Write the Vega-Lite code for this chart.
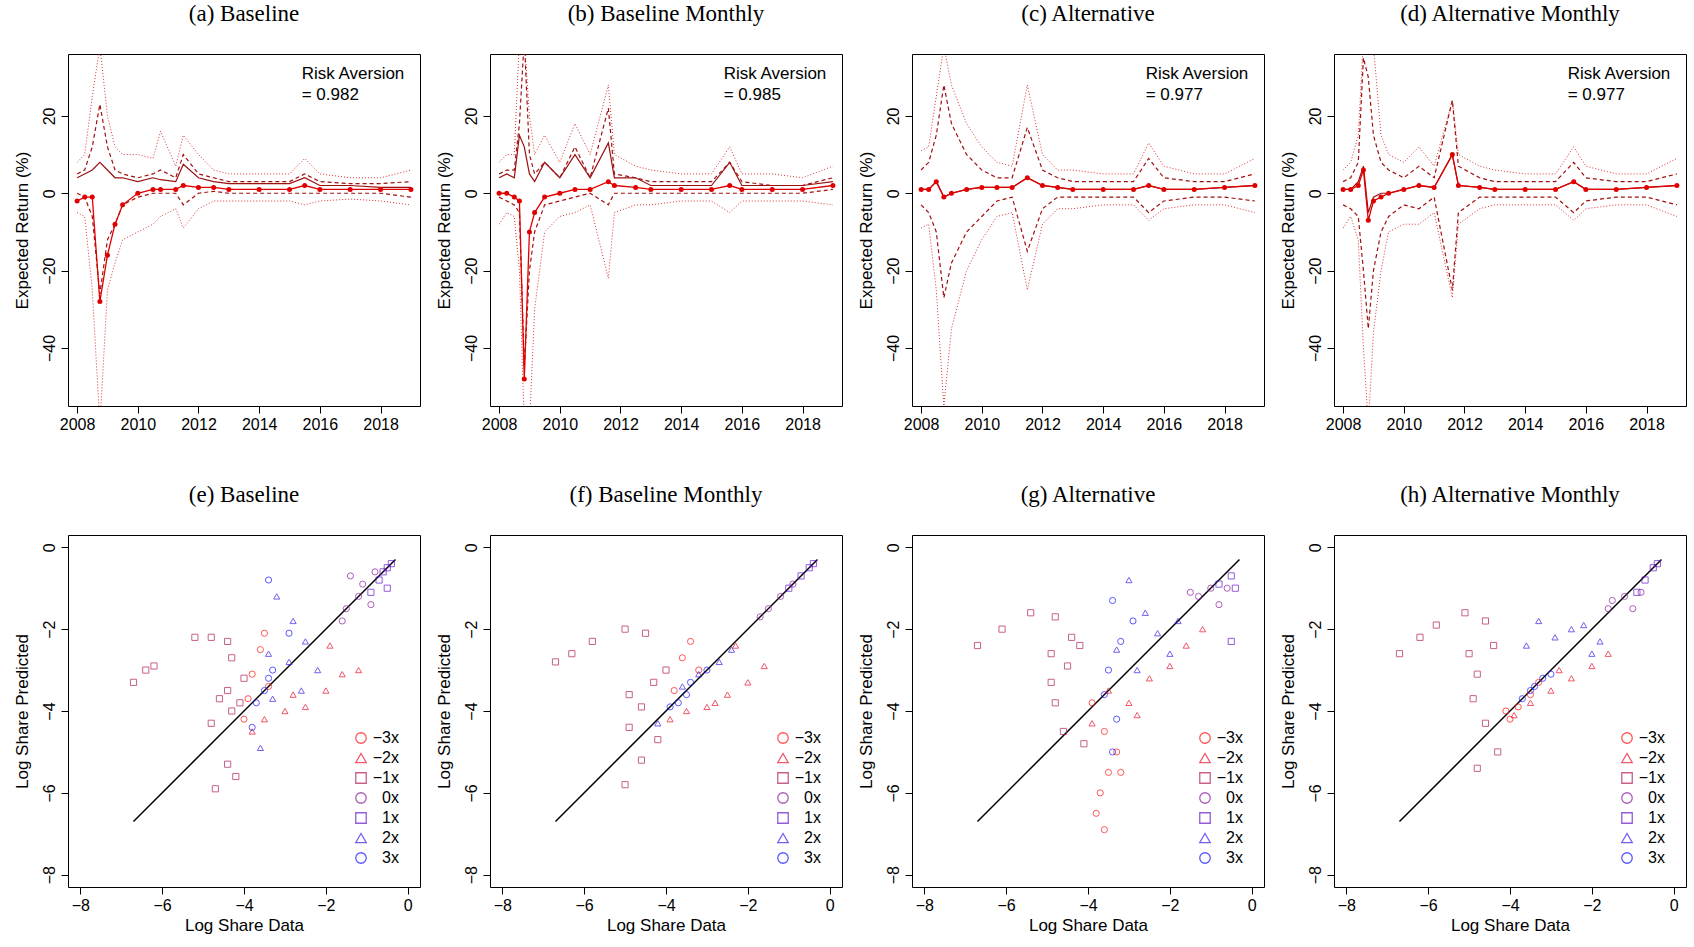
{
  "$schema": "https://vega.github.io/schema/vega-lite/v6.json",
  "background": "white",
  "padding": {"left": 12, "top": 2, "right": 2, "bottom": 2},
  "spacing": {"row": 50, "column": 13},
  "datasets": {
    "ts": [
      {"p":"a","t":2008.0,"m":-2,"s":4,"du":5,"dl":0,"qu":8,"ql":-5},
      {"p":"a","t":2008.25,"m":-1,"s":5,"du":6,"dl":-1,"qu":10,"ql":-6},
      {"p":"a","t":2008.5,"m":-1,"s":6,"du":12,"dl":-6,"qu":25,"ql":-25},
      {"p":"a","t":2008.75,"m":-28,"s":8,"du":23,"dl":-26,"qu":38,"ql":-60},
      {"p":"a","t":2009.0,"m":-16,"s":6,"du":12,"dl":-12,"qu":20,"ql":-25},
      {"p":"a","t":2009.25,"m":-8,"s":4,"du":6,"dl":-8,"qu":12,"ql":-18},
      {"p":"a","t":2009.5,"m":-3,"s":4,"du":5,"dl":-3,"qu":10,"ql":-12},
      {"p":"a","t":2010.0,"m":0,"s":3,"du":4,"dl":-1,"qu":10,"ql":-10},
      {"p":"a","t":2010.5,"m":1,"s":4,"du":5,"dl":0,"qu":9,"ql":-8},
      {"p":"a","t":2010.75,"m":1,"s":3.5,"du":6,"dl":0,"qu":16,"ql":-6},
      {"p":"a","t":2011.25,"m":1,"s":3,"du":4,"dl":0,"qu":7,"ql":-4},
      {"p":"a","t":2011.5,"m":2,"s":7.5,"du":10,"dl":-3,"qu":15,"ql":-9},
      {"p":"a","t":2012.0,"m":1.5,"s":4,"du":5,"dl":0,"qu":10,"ql":-4},
      {"p":"a","t":2012.5,"m":1.5,"s":3,"du":4,"dl":0.5,"qu":6,"ql":-2},
      {"p":"a","t":2013.0,"m":1,"s":2.5,"du":3,"dl":0,"qu":5,"ql":-2},
      {"p":"a","t":2014.0,"m":1,"s":2.5,"du":3,"dl":0,"qu":5,"ql":-2},
      {"p":"a","t":2015.0,"m":1,"s":2.5,"du":3,"dl":0,"qu":5,"ql":-2},
      {"p":"a","t":2015.5,"m":2,"s":4,"du":5,"dl":0,"qu":9,"ql":-3},
      {"p":"a","t":2016.0,"m":1,"s":2,"du":3,"dl":0,"qu":5,"ql":-2},
      {"p":"a","t":2017.0,"m":1,"s":2,"du":2.5,"dl":0,"qu":4,"ql":-1.5},
      {"p":"a","t":2018.0,"m":1,"s":1.5,"du":2.5,"dl":0,"qu":4,"ql":-2},
      {"p":"a","t":2019.0,"m":1,"s":1.5,"du":3,"dl":-1,"qu":6,"ql":-3},

      {"p":"b","t":2008.0,"m":0,"s":4,"du":5,"dl":-1,"qu":8,"ql":-8},
      {"p":"b","t":2008.25,"m":0,"s":5,"du":6,"dl":-2,"qu":10,"ql":-5},
      {"p":"b","t":2008.5,"m":-1,"s":4,"du":6,"dl":-3,"qu":10,"ql":-6},
      {"p":"b","t":2008.67,"m":-2,"s":15,"du":18,"dl":-5,"qu":40,"ql":-20},
      {"p":"b","t":2008.83,"m":-48,"s":12,"du":40,"dl":-45,"qu":40,"ql":-60},
      {"p":"b","t":2009.0,"m":-10,"s":5,"du":10,"dl":-20,"qu":20,"ql":-60},
      {"p":"b","t":2009.17,"m":-5,"s":3,"du":5,"dl":-10,"qu":10,"ql":-30},
      {"p":"b","t":2009.5,"m":-1,"s":8,"du":8,"dl":-3,"qu":15,"ql":-10},
      {"p":"b","t":2010.0,"m":0,"s":4,"du":4,"dl":-2,"qu":8,"ql":-6},
      {"p":"b","t":2010.5,"m":1,"s":10,"du":12,"dl":-1,"qu":18,"ql":-5},
      {"p":"b","t":2011.0,"m":1,"s":4,"du":4,"dl":0,"qu":10,"ql":-3},
      {"p":"b","t":2011.6,"m":3,"s":13,"du":22,"dl":-3,"qu":28,"ql":-22},
      {"p":"b","t":2011.8,"m":2,"s":4,"du":5,"dl":0,"qu":10,"ql":-5},
      {"p":"b","t":2012.5,"m":1.5,"s":4,"du":4,"dl":0,"qu":7,"ql":-3},
      {"p":"b","t":2013.0,"m":1,"s":2,"du":3,"dl":0,"qu":6,"ql":-3},
      {"p":"b","t":2014.0,"m":1,"s":2,"du":3,"dl":0,"qu":5,"ql":-2},
      {"p":"b","t":2015.0,"m":1,"s":2,"du":3,"dl":0,"qu":5,"ql":-2},
      {"p":"b","t":2015.6,"m":2,"s":8,"du":8,"dl":0,"qu":12,"ql":-5},
      {"p":"b","t":2016.0,"m":1,"s":2,"du":3,"dl":0,"qu":5,"ql":-2},
      {"p":"b","t":2017.0,"m":1,"s":2,"du":2,"dl":0,"qu":5,"ql":-2},
      {"p":"b","t":2018.0,"m":1,"s":2,"du":2,"dl":0,"qu":4,"ql":-2},
      {"p":"b","t":2019.0,"m":2,"s":3,"du":4,"dl":1,"qu":7,"ql":-3},

      {"p":"c","t":2008.0,"m":1,"s":1,"du":6,"dl":-3,"qu":11,"ql":-9},
      {"p":"c","t":2008.25,"m":1,"s":1,"du":8,"dl":-5,"qu":12,"ql":-8},
      {"p":"c","t":2008.5,"m":3,"s":3,"du":15,"dl":-10,"qu":25,"ql":-25},
      {"p":"c","t":2008.75,"m":-1,"s":-1,"du":28,"dl":-27,"qu":38,"ql":-55},
      {"p":"c","t":2009.0,"m":0,"s":0,"du":18,"dl":-18,"qu":28,"ql":-35},
      {"p":"c","t":2009.5,"m":1,"s":1,"du":10,"dl":-10,"qu":18,"ql":-20},
      {"p":"c","t":2010.0,"m":1.5,"s":1.5,"du":6,"dl":-6,"qu":12,"ql":-12},
      {"p":"c","t":2010.5,"m":1.5,"s":1.5,"du":4,"dl":-2,"qu":8,"ql":-6},
      {"p":"c","t":2011.0,"m":1.5,"s":1.5,"du":4,"dl":-1,"qu":7,"ql":-5},
      {"p":"c","t":2011.5,"m":4,"s":4,"du":17,"dl":-15,"qu":28,"ql":-25},
      {"p":"c","t":2012.0,"m":2,"s":2,"du":6,"dl":-4,"qu":10,"ql":-8},
      {"p":"c","t":2012.5,"m":1.5,"s":1.5,"du":4,"dl":-1,"qu":6,"ql":-4},
      {"p":"c","t":2013.0,"m":1,"s":1,"du":3,"dl":-1,"qu":6,"ql":-4},
      {"p":"c","t":2014.0,"m":1,"s":1,"du":3,"dl":-1,"qu":5,"ql":-3},
      {"p":"c","t":2015.0,"m":1,"s":1,"du":3,"dl":-1,"qu":5,"ql":-3},
      {"p":"c","t":2015.5,"m":2,"s":2,"du":9,"dl":-5,"qu":13,"ql":-7},
      {"p":"c","t":2016.0,"m":1,"s":1,"du":4,"dl":-2,"qu":7,"ql":-4},
      {"p":"c","t":2017.0,"m":1,"s":1,"du":3,"dl":-1,"qu":5,"ql":-3},
      {"p":"c","t":2018.0,"m":1.5,"s":1.5,"du":3,"dl":-1,"qu":5,"ql":-3},
      {"p":"c","t":2019.0,"m":2,"s":2,"du":5,"dl":-2,"qu":9,"ql":-5},

      {"p":"d","t":2008.0,"m":1,"s":1,"du":3,"dl":-3,"qu":6,"ql":-9},
      {"p":"d","t":2008.25,"m":1,"s":1,"du":4,"dl":-4,"qu":8,"ql":-6},
      {"p":"d","t":2008.5,"m":2,"s":3,"du":8,"dl":-6,"qu":15,"ql":-12},
      {"p":"d","t":2008.67,"m":6,"s":7,"du":35,"dl":-20,"qu":40,"ql":-40},
      {"p":"d","t":2008.83,"m":-7,"s":-5,"du":30,"dl":-35,"qu":40,"ql":-60},
      {"p":"d","t":2009.0,"m":-2,"s":-1,"du":15,"dl":-20,"qu":38,"ql":-36},
      {"p":"d","t":2009.25,"m":-1,"s":0,"du":8,"dl":-10,"qu":15,"ql":-20},
      {"p":"d","t":2009.5,"m":0,"s":0,"du":6,"dl":-6,"qu":10,"ql":-10},
      {"p":"d","t":2010.0,"m":1,"s":1,"du":4,"dl":-3,"qu":8,"ql":-8},
      {"p":"d","t":2010.5,"m":2,"s":2,"du":7,"dl":-4,"qu":12,"ql":-8},
      {"p":"d","t":2011.0,"m":1.5,"s":1.5,"du":4,"dl":-1,"qu":7,"ql":-5},
      {"p":"d","t":2011.6,"m":10,"s":10,"du":24,"dl":-25,"qu":24,"ql":-27},
      {"p":"d","t":2011.8,"m":2,"s":2,"du":7,"dl":-5,"qu":10,"ql":-8},
      {"p":"d","t":2012.5,"m":1.5,"s":1.5,"du":4,"dl":-1,"qu":7,"ql":-4},
      {"p":"d","t":2013.0,"m":1,"s":1,"du":3,"dl":-1,"qu":6,"ql":-3},
      {"p":"d","t":2014.0,"m":1,"s":1,"du":3,"dl":-1,"qu":5,"ql":-3},
      {"p":"d","t":2015.0,"m":1,"s":1,"du":3,"dl":-1,"qu":5,"ql":-3},
      {"p":"d","t":2015.6,"m":3,"s":3,"du":8,"dl":-5,"qu":12,"ql":-7},
      {"p":"d","t":2016.0,"m":1,"s":1,"du":4,"dl":-2,"qu":7,"ql":-4},
      {"p":"d","t":2017.0,"m":1,"s":1,"du":3,"dl":-1,"qu":5,"ql":-3},
      {"p":"d","t":2018.0,"m":1.5,"s":1.5,"du":3,"dl":-1,"qu":5,"ql":-3},
      {"p":"d","t":2019.0,"m":2,"s":2,"du":5,"dl":-3,"qu":9,"ql":-6}
    ],
    "ra": [
      {"p":"a","t":2015.4,"y":33,"lab":["Risk Aversion","= 0.982"]},
      {"p":"b","t":2015.4,"y":33,"lab":["Risk Aversion","= 0.985"]},
      {"p":"c","t":2015.4,"y":33,"lab":["Risk Aversion","= 0.977"]},
      {"p":"d","t":2015.4,"y":33,"lab":["Risk Aversion","= 0.977"]}
    ],
    "diag": [{"x":-6.7,"y":-6.7},{"x":-0.3,"y":-0.3}],
    "sc": [
      {"p":"e","g":"0x","x":-1.5,"y":-1.5},{"p":"e","g":"0x","x":-1.2,"y":-1.2},{"p":"e","g":"0x","x":-1.6,"y":-1.8},{"p":"e","g":"0x","x":-0.8,"y":-0.6},{"p":"e","g":"0x","x":-1.1,"y":-0.9},{"p":"e","g":"0x","x":-1.4,"y":-0.7},{"p":"e","g":"0x","x":-0.9,"y":-1.4},
      {"p":"e","g":"1x","x":-0.5,"y":-0.5},{"p":"e","g":"1x","x":-0.4,"y":-0.4},{"p":"e","g":"1x","x":-0.7,"y":-0.8},{"p":"e","g":"1x","x":-0.5,"y":-1.0},{"p":"e","g":"1x","x":-0.9,"y":-1.1},{"p":"e","g":"1x","x":-0.6,"y":-0.6},
      {"p":"e","g":"−1x","x":-6.7,"y":-3.3},{"p":"e","g":"−1x","x":-6.4,"y":-3.0},{"p":"e","g":"−1x","x":-6.2,"y":-2.9},{"p":"e","g":"−1x","x":-5.2,"y":-2.2},{"p":"e","g":"−1x","x":-4.8,"y":-2.2},{"p":"e","g":"−1x","x":-4.4,"y":-2.3},{"p":"e","g":"−1x","x":-4.6,"y":-3.7},{"p":"e","g":"−1x","x":-4.3,"y":-4.0},{"p":"e","g":"−1x","x":-4.4,"y":-3.5},{"p":"e","g":"−1x","x":-4.1,"y":-3.8},{"p":"e","g":"−1x","x":-4.8,"y":-4.3},{"p":"e","g":"−1x","x":-4.4,"y":-5.3},{"p":"e","g":"−1x","x":-4.2,"y":-5.6},{"p":"e","g":"−1x","x":-4.7,"y":-5.9},{"p":"e","g":"−1x","x":-4.0,"y":-3.2},{"p":"e","g":"−1x","x":-4.3,"y":-2.7},
      {"p":"e","g":"−3x","x":-3.6,"y":-2.5},{"p":"e","g":"−3x","x":-3.8,"y":-3.1},{"p":"e","g":"−3x","x":-3.9,"y":-3.7},{"p":"e","g":"−3x","x":-3.5,"y":-2.1},{"p":"e","g":"−3x","x":-3.4,"y":-3.4},{"p":"e","g":"−3x","x":-4.0,"y":-4.2},
      {"p":"e","g":"−2x","x":-3.5,"y":-4.2},{"p":"e","g":"−2x","x":-3.0,"y":-4.0},{"p":"e","g":"−2x","x":-2.5,"y":-3.9},{"p":"e","g":"−2x","x":-2.0,"y":-3.5},{"p":"e","g":"−2x","x":-1.6,"y":-3.1},{"p":"e","g":"−2x","x":-1.2,"y":-3.0},{"p":"e","g":"−2x","x":-1.9,"y":-2.4},{"p":"e","g":"−2x","x":-3.8,"y":-4.5},{"p":"e","g":"−2x","x":-2.8,"y":-3.6},
      {"p":"e","g":"2x","x":-3.2,"y":-1.2},{"p":"e","g":"2x","x":-2.8,"y":-1.8},{"p":"e","g":"2x","x":-2.5,"y":-2.3},{"p":"e","g":"2x","x":-2.9,"y":-2.8},{"p":"e","g":"2x","x":-2.2,"y":-3.0},{"p":"e","g":"2x","x":-2.6,"y":-3.5},{"p":"e","g":"2x","x":-3.3,"y":-3.7},{"p":"e","g":"2x","x":-3.6,"y":-4.9},{"p":"e","g":"2x","x":-3.4,"y":-2.6},
      {"p":"e","g":"3x","x":-3.4,"y":-0.8},{"p":"e","g":"3x","x":-3.4,"y":-3.2},{"p":"e","g":"3x","x":-3.5,"y":-3.5},{"p":"e","g":"3x","x":-3.7,"y":-3.8},{"p":"e","g":"3x","x":-3.3,"y":-3.0},{"p":"e","g":"3x","x":-3.8,"y":-4.4},{"p":"e","g":"3x","x":-2.9,"y":-2.1},

      {"p":"f","g":"0x","x":-1.5,"y":-1.5},{"p":"f","g":"0x","x":-1.2,"y":-1.2},{"p":"f","g":"0x","x":-0.9,"y":-0.9},{"p":"f","g":"0x","x":-1.7,"y":-1.7},
      {"p":"f","g":"1x","x":-0.5,"y":-0.5},{"p":"f","g":"1x","x":-0.7,"y":-0.7},{"p":"f","g":"1x","x":-0.4,"y":-0.4},{"p":"f","g":"1x","x":-1.0,"y":-1.0},
      {"p":"f","g":"−1x","x":-6.7,"y":-2.8},{"p":"f","g":"−1x","x":-6.3,"y":-2.6},{"p":"f","g":"−1x","x":-5.8,"y":-2.3},{"p":"f","g":"−1x","x":-5.0,"y":-2.0},{"p":"f","g":"−1x","x":-4.5,"y":-2.1},{"p":"f","g":"−1x","x":-4.9,"y":-3.6},{"p":"f","g":"−1x","x":-4.6,"y":-3.9},{"p":"f","g":"−1x","x":-4.3,"y":-3.3},{"p":"f","g":"−1x","x":-4.0,"y":-3.0},{"p":"f","g":"−1x","x":-4.9,"y":-4.4},{"p":"f","g":"−1x","x":-4.6,"y":-5.2},{"p":"f","g":"−1x","x":-5.0,"y":-5.8},{"p":"f","g":"−1x","x":-4.2,"y":-4.7},
      {"p":"f","g":"−3x","x":-3.4,"y":-2.3},{"p":"f","g":"−3x","x":-3.6,"y":-2.7},{"p":"f","g":"−3x","x":-3.2,"y":-3.0},{"p":"f","g":"−3x","x":-3.8,"y":-3.5},
      {"p":"f","g":"−2x","x":-3.5,"y":-4.0},{"p":"f","g":"−2x","x":-3.0,"y":-3.9},{"p":"f","g":"−2x","x":-2.5,"y":-3.6},{"p":"f","g":"−2x","x":-2.0,"y":-3.3},{"p":"f","g":"−2x","x":-1.6,"y":-2.9},{"p":"f","g":"−2x","x":-2.8,"y":-3.8},{"p":"f","g":"−2x","x":-2.3,"y":-2.4},{"p":"f","g":"−2x","x":-3.9,"y":-4.2},
      {"p":"f","g":"2x","x":-3.2,"y":-3.1},{"p":"f","g":"2x","x":-2.7,"y":-2.8},{"p":"f","g":"2x","x":-2.4,"y":-2.5},{"p":"f","g":"2x","x":-3.6,"y":-3.4},{"p":"f","g":"2x","x":-4.2,"y":-4.3},
      {"p":"f","g":"3x","x":-3.4,"y":-3.3},{"p":"f","g":"3x","x":-3.5,"y":-3.6},{"p":"f","g":"3x","x":-3.7,"y":-3.8},{"p":"f","g":"3x","x":-3.0,"y":-3.0},{"p":"f","g":"3x","x":-3.9,"y":-3.9},

      {"p":"g","g":"0x","x":-1.0,"y":-1.0},{"p":"g","g":"0x","x":-1.3,"y":-1.2},{"p":"g","g":"0x","x":-0.6,"y":-1.0},{"p":"g","g":"0x","x":-0.8,"y":-1.4},{"p":"g","g":"0x","x":-1.5,"y":-1.1},
      {"p":"g","g":"1x","x":-0.5,"y":-0.7},{"p":"g","g":"1x","x":-0.4,"y":-1.0},{"p":"g","g":"1x","x":-0.5,"y":-2.3},{"p":"g","g":"1x","x":-0.8,"y":-0.9},
      {"p":"g","g":"−1x","x":-6.7,"y":-2.4},{"p":"g","g":"−1x","x":-6.1,"y":-2.0},{"p":"g","g":"−1x","x":-5.4,"y":-1.6},{"p":"g","g":"−1x","x":-4.8,"y":-1.7},{"p":"g","g":"−1x","x":-4.4,"y":-2.2},{"p":"g","g":"−1x","x":-4.9,"y":-2.6},{"p":"g","g":"−1x","x":-4.5,"y":-2.9},{"p":"g","g":"−1x","x":-4.2,"y":-2.4},{"p":"g","g":"−1x","x":-4.8,"y":-3.8},{"p":"g","g":"−1x","x":-4.6,"y":-4.5},{"p":"g","g":"−1x","x":-4.1,"y":-4.8},{"p":"g","g":"−1x","x":-4.9,"y":-3.3},
      {"p":"g","g":"−3x","x":-3.6,"y":-4.5},{"p":"g","g":"−3x","x":-3.3,"y":-5.0},{"p":"g","g":"−3x","x":-3.5,"y":-5.5},{"p":"g","g":"−3x","x":-3.7,"y":-6.0},{"p":"g","g":"−3x","x":-3.8,"y":-6.5},{"p":"g","g":"−3x","x":-3.6,"y":-6.9},{"p":"g","g":"−3x","x":-3.9,"y":-3.8},{"p":"g","g":"−3x","x":-3.2,"y":-5.5},
      {"p":"g","g":"−2x","x":-3.5,"y":-3.5},{"p":"g","g":"−2x","x":-3.0,"y":-3.8},{"p":"g","g":"−2x","x":-2.5,"y":-3.2},{"p":"g","g":"−2x","x":-2.0,"y":-2.9},{"p":"g","g":"−2x","x":-1.6,"y":-2.4},{"p":"g","g":"−2x","x":-1.2,"y":-2.0},{"p":"g","g":"−2x","x":-2.8,"y":-4.1},{"p":"g","g":"−2x","x":-3.9,"y":-4.3},
      {"p":"g","g":"2x","x":-3.0,"y":-0.8},{"p":"g","g":"2x","x":-2.6,"y":-1.6},{"p":"g","g":"2x","x":-2.3,"y":-2.1},{"p":"g","g":"2x","x":-2.0,"y":-2.6},{"p":"g","g":"2x","x":-1.8,"y":-1.8},{"p":"g","g":"2x","x":-3.3,"y":-2.5},{"p":"g","g":"2x","x":-2.8,"y":-3.0},
      {"p":"g","g":"3x","x":-3.4,"y":-1.3},{"p":"g","g":"3x","x":-3.2,"y":-2.3},{"p":"g","g":"3x","x":-3.5,"y":-3.0},{"p":"g","g":"3x","x":-3.6,"y":-3.6},{"p":"g","g":"3x","x":-3.3,"y":-4.2},{"p":"g","g":"3x","x":-3.4,"y":-5.0},{"p":"g","g":"3x","x":-2.9,"y":-1.8},

      {"p":"h","g":"0x","x":-1.5,"y":-1.3},{"p":"h","g":"0x","x":-1.2,"y":-1.2},{"p":"h","g":"0x","x":-1.0,"y":-1.5},{"p":"h","g":"0x","x":-0.8,"y":-1.1},{"p":"h","g":"0x","x":-1.6,"y":-1.5},
      {"p":"h","g":"1x","x":-0.5,"y":-0.5},{"p":"h","g":"1x","x":-0.7,"y":-0.8},{"p":"h","g":"1x","x":-0.4,"y":-0.4},{"p":"h","g":"1x","x":-0.9,"y":-1.1},
      {"p":"h","g":"−1x","x":-6.7,"y":-2.6},{"p":"h","g":"−1x","x":-6.2,"y":-2.2},{"p":"h","g":"−1x","x":-5.8,"y":-1.9},{"p":"h","g":"−1x","x":-5.1,"y":-1.6},{"p":"h","g":"−1x","x":-4.6,"y":-1.8},{"p":"h","g":"−1x","x":-5.0,"y":-2.6},{"p":"h","g":"−1x","x":-4.8,"y":-3.1},{"p":"h","g":"−1x","x":-4.4,"y":-2.4},{"p":"h","g":"−1x","x":-4.9,"y":-3.7},{"p":"h","g":"−1x","x":-4.6,"y":-4.3},{"p":"h","g":"−1x","x":-4.3,"y":-5.0},{"p":"h","g":"−1x","x":-4.8,"y":-5.4},
      {"p":"h","g":"−3x","x":-4.0,"y":-4.2},{"p":"h","g":"−3x","x":-3.8,"y":-3.9},{"p":"h","g":"−3x","x":-3.5,"y":-3.6},{"p":"h","g":"−3x","x":-3.3,"y":-3.3},{"p":"h","g":"−3x","x":-4.1,"y":-4.0},
      {"p":"h","g":"−2x","x":-3.5,"y":-3.8},{"p":"h","g":"−2x","x":-3.0,"y":-3.5},{"p":"h","g":"−2x","x":-2.5,"y":-3.2},{"p":"h","g":"−2x","x":-2.0,"y":-2.9},{"p":"h","g":"−2x","x":-1.6,"y":-2.6},{"p":"h","g":"−2x","x":-2.8,"y":-3.0},{"p":"h","g":"−2x","x":-3.9,"y":-4.1},
      {"p":"h","g":"2x","x":-3.3,"y":-1.8},{"p":"h","g":"2x","x":-2.9,"y":-2.2},{"p":"h","g":"2x","x":-2.5,"y":-2.0},{"p":"h","g":"2x","x":-2.2,"y":-1.9},{"p":"h","g":"2x","x":-1.8,"y":-2.3},{"p":"h","g":"2x","x":-3.6,"y":-2.4},{"p":"h","g":"2x","x":-2.0,"y":-2.6},
      {"p":"h","g":"3x","x":-3.4,"y":-3.4},{"p":"h","g":"3x","x":-3.5,"y":-3.5},{"p":"h","g":"3x","x":-3.2,"y":-3.2},{"p":"h","g":"3x","x":-3.7,"y":-3.7},{"p":"h","g":"3x","x":-3.0,"y":-3.1}
    ]
  },
  "config": {
    "font": "Liberation Sans",
    "view": {"stroke": "black", "strokeWidth": 1},
    "title": {"font": "Liberation Serif", "fontSize": 23, "fontWeight": "normal", "anchor": "middle", "offset": 28},
    "axis": {"grid": false, "domain": false, "tickColor": "black", "tickSize": 7, "labelColor": "black", "labelFontSize": 16, "titleFontSize": 17, "titleFontWeight": "normal", "titleColor": "black", "labelFont": "Liberation Sans", "titleFont": "Liberation Sans"},
    "axisY": {"labelAngle": -90, "labelAlign": "center", "labelBaseline": "bottom", "labelPadding": 4, "titlePadding": 10},
    "axisX": {"labelPadding": 3, "titlePadding": 4},
    "legend": {"orient": "bottom-right", "title": null, "labelFontSize": 16, "labelColor": "black", "symbolSize": 110, "symbolStrokeWidth": 1.3, "rowPadding": 4, "padding": 3, "labelAlign": "right", "labelOffset": 30}
  },
  "columns": 4,
  "concat": [
    {"title": "(a) Baseline", "width": 352, "height": 352,
     "layer": [
      {"data": {"name": "ts"}, "transform": [{"filter": "datum.p == 'a'"}],
       "layer": [
        {"mark": {"type": "line", "clip": true, "color": "#e03030", "strokeWidth": 1, "strokeDash": [1, 2]}, "encoding": {"x": {"field": "t", "type": "quantitative", "scale": {"domain": [2007.7, 2019.3], "nice": false, "zero": false}, "axis": {"values": [2008,2010,2012,2014,2016,2018], "format": "d", "title": null}}, "y": {"field": "qu", "type": "quantitative", "scale": {"domain": [-55, 36], "nice": false}, "axis": {"values": [-40,-20,0,20], "title": "Expected Return (%)"}}}},
        {"mark": {"type": "line", "clip": true, "color": "#e03030", "strokeWidth": 1, "strokeDash": [1, 2]}, "encoding": {"x": {"field": "t", "type": "quantitative"}, "y": {"field": "ql", "type": "quantitative"}}},
        {"mark": {"type": "line", "clip": true, "color": "#a01010", "strokeWidth": 1.2, "strokeDash": [4, 3]}, "encoding": {"x": {"field": "t", "type": "quantitative"}, "y": {"field": "du", "type": "quantitative"}}},
        {"mark": {"type": "line", "clip": true, "color": "#a01010", "strokeWidth": 1.2, "strokeDash": [4, 3]}, "encoding": {"x": {"field": "t", "type": "quantitative"}, "y": {"field": "dl", "type": "quantitative"}}},
        {"mark": {"type": "line", "clip": true, "color": "#9b1010", "strokeWidth": 1.2}, "encoding": {"x": {"field": "t", "type": "quantitative"}, "y": {"field": "s", "type": "quantitative"}}},
        {"mark": {"type": "line", "clip": true, "color": "#e00000", "strokeWidth": 1.3, "point": {"filled": true, "size": 25, "color": "#e00000"}}, "encoding": {"x": {"field": "t", "type": "quantitative"}, "y": {"field": "m", "type": "quantitative"}}}
       ]},
      {"data": {"name": "ra"}, "transform": [{"filter": "datum.p == 'a'"}], "mark": {"type": "text", "align": "left", "baseline": "top", "fontSize": 17, "lineHeight": 21}, "encoding": {"x": {"field": "t", "type": "quantitative"}, "y": {"field": "y", "type": "quantitative"}, "text": {"field": "lab"}}}
     ]},
    {"title": "(b) Baseline Monthly", "width": 352, "height": 352,
     "layer": [
      {"data": {"name": "ts"}, "transform": [{"filter": "datum.p == 'b'"}],
       "layer": [
        {"mark": {"type": "line", "clip": true, "color": "#e03030", "strokeWidth": 1, "strokeDash": [1, 2]}, "encoding": {"x": {"field": "t", "type": "quantitative", "scale": {"domain": [2007.7, 2019.3], "nice": false, "zero": false}, "axis": {"values": [2008,2010,2012,2014,2016,2018], "format": "d", "title": null}}, "y": {"field": "qu", "type": "quantitative", "scale": {"domain": [-55, 36], "nice": false}, "axis": {"values": [-40,-20,0,20], "title": "Expected Return (%)"}}}},
        {"mark": {"type": "line", "clip": true, "color": "#e03030", "strokeWidth": 1, "strokeDash": [1, 2]}, "encoding": {"x": {"field": "t", "type": "quantitative"}, "y": {"field": "ql", "type": "quantitative"}}},
        {"mark": {"type": "line", "clip": true, "color": "#a01010", "strokeWidth": 1.2, "strokeDash": [4, 3]}, "encoding": {"x": {"field": "t", "type": "quantitative"}, "y": {"field": "du", "type": "quantitative"}}},
        {"mark": {"type": "line", "clip": true, "color": "#a01010", "strokeWidth": 1.2, "strokeDash": [4, 3]}, "encoding": {"x": {"field": "t", "type": "quantitative"}, "y": {"field": "dl", "type": "quantitative"}}},
        {"mark": {"type": "line", "clip": true, "color": "#9b1010", "strokeWidth": 1.2}, "encoding": {"x": {"field": "t", "type": "quantitative"}, "y": {"field": "s", "type": "quantitative"}}},
        {"mark": {"type": "line", "clip": true, "color": "#e00000", "strokeWidth": 1.3, "point": {"filled": true, "size": 25, "color": "#e00000"}}, "encoding": {"x": {"field": "t", "type": "quantitative"}, "y": {"field": "m", "type": "quantitative"}}}
       ]},
      {"data": {"name": "ra"}, "transform": [{"filter": "datum.p == 'b'"}], "mark": {"type": "text", "align": "left", "baseline": "top", "fontSize": 17, "lineHeight": 21}, "encoding": {"x": {"field": "t", "type": "quantitative"}, "y": {"field": "y", "type": "quantitative"}, "text": {"field": "lab"}}}
     ]},
    {"title": "(c) Alternative", "width": 352, "height": 352,
     "layer": [
      {"data": {"name": "ts"}, "transform": [{"filter": "datum.p == 'c'"}],
       "layer": [
        {"mark": {"type": "line", "clip": true, "color": "#e03030", "strokeWidth": 1, "strokeDash": [1, 2]}, "encoding": {"x": {"field": "t", "type": "quantitative", "scale": {"domain": [2007.7, 2019.3], "nice": false, "zero": false}, "axis": {"values": [2008,2010,2012,2014,2016,2018], "format": "d", "title": null}}, "y": {"field": "qu", "type": "quantitative", "scale": {"domain": [-55, 36], "nice": false}, "axis": {"values": [-40,-20,0,20], "title": "Expected Return (%)"}}}},
        {"mark": {"type": "line", "clip": true, "color": "#e03030", "strokeWidth": 1, "strokeDash": [1, 2]}, "encoding": {"x": {"field": "t", "type": "quantitative"}, "y": {"field": "ql", "type": "quantitative"}}},
        {"mark": {"type": "line", "clip": true, "color": "#a01010", "strokeWidth": 1.2, "strokeDash": [4, 3]}, "encoding": {"x": {"field": "t", "type": "quantitative"}, "y": {"field": "du", "type": "quantitative"}}},
        {"mark": {"type": "line", "clip": true, "color": "#a01010", "strokeWidth": 1.2, "strokeDash": [4, 3]}, "encoding": {"x": {"field": "t", "type": "quantitative"}, "y": {"field": "dl", "type": "quantitative"}}},
        {"mark": {"type": "line", "clip": true, "color": "#9b1010", "strokeWidth": 1.2}, "encoding": {"x": {"field": "t", "type": "quantitative"}, "y": {"field": "s", "type": "quantitative"}}},
        {"mark": {"type": "line", "clip": true, "color": "#e00000", "strokeWidth": 1.3, "point": {"filled": true, "size": 25, "color": "#e00000"}}, "encoding": {"x": {"field": "t", "type": "quantitative"}, "y": {"field": "m", "type": "quantitative"}}}
       ]},
      {"data": {"name": "ra"}, "transform": [{"filter": "datum.p == 'c'"}], "mark": {"type": "text", "align": "left", "baseline": "top", "fontSize": 17, "lineHeight": 21}, "encoding": {"x": {"field": "t", "type": "quantitative"}, "y": {"field": "y", "type": "quantitative"}, "text": {"field": "lab"}}}
     ]},
    {"title": "(d) Alternative Monthly", "width": 352, "height": 352,
     "layer": [
      {"data": {"name": "ts"}, "transform": [{"filter": "datum.p == 'd'"}],
       "layer": [
        {"mark": {"type": "line", "clip": true, "color": "#e03030", "strokeWidth": 1, "strokeDash": [1, 2]}, "encoding": {"x": {"field": "t", "type": "quantitative", "scale": {"domain": [2007.7, 2019.3], "nice": false, "zero": false}, "axis": {"values": [2008,2010,2012,2014,2016,2018], "format": "d", "title": null}}, "y": {"field": "qu", "type": "quantitative", "scale": {"domain": [-55, 36], "nice": false}, "axis": {"values": [-40,-20,0,20], "title": "Expected Return (%)"}}}},
        {"mark": {"type": "line", "clip": true, "color": "#e03030", "strokeWidth": 1, "strokeDash": [1, 2]}, "encoding": {"x": {"field": "t", "type": "quantitative"}, "y": {"field": "ql", "type": "quantitative"}}},
        {"mark": {"type": "line", "clip": true, "color": "#a01010", "strokeWidth": 1.2, "strokeDash": [4, 3]}, "encoding": {"x": {"field": "t", "type": "quantitative"}, "y": {"field": "du", "type": "quantitative"}}},
        {"mark": {"type": "line", "clip": true, "color": "#a01010", "strokeWidth": 1.2, "strokeDash": [4, 3]}, "encoding": {"x": {"field": "t", "type": "quantitative"}, "y": {"field": "dl", "type": "quantitative"}}},
        {"mark": {"type": "line", "clip": true, "color": "#9b1010", "strokeWidth": 1.2}, "encoding": {"x": {"field": "t", "type": "quantitative"}, "y": {"field": "s", "type": "quantitative"}}},
        {"mark": {"type": "line", "clip": true, "color": "#e00000", "strokeWidth": 1.3, "point": {"filled": true, "size": 25, "color": "#e00000"}}, "encoding": {"x": {"field": "t", "type": "quantitative"}, "y": {"field": "m", "type": "quantitative"}}}
       ]},
      {"data": {"name": "ra"}, "transform": [{"filter": "datum.p == 'd'"}], "mark": {"type": "text", "align": "left", "baseline": "top", "fontSize": 17, "lineHeight": 21}, "encoding": {"x": {"field": "t", "type": "quantitative"}, "y": {"field": "y", "type": "quantitative"}, "text": {"field": "lab"}}}
     ]},
    {"title": "(e) Baseline", "width": 352, "height": 352,
     "layer": [
      {"data": {"name": "diag"}, "mark": {"type": "line", "color": "black", "strokeWidth": 1.5}, "encoding": {"x": {"field": "x", "type": "quantitative", "scale": {"domain": [-8.3, 0.3], "nice": false}, "axis": {"values": [-8,-6,-4,-2,0], "title": "Log Share Data"}}, "y": {"field": "y", "type": "quantitative", "scale": {"domain": [-8.3, 0.3], "nice": false}, "axis": {"values": [-8,-6,-4,-2,0], "title": "Log Share Predicted"}}}},
      {"data": {"name": "sc"}, "transform": [{"filter": "datum.p == 'e'"}], "mark": {"type": "point", "filled": false, "size": 38, "strokeWidth": 1}, "encoding": {"x": {"field": "x", "type": "quantitative"}, "y": {"field": "y", "type": "quantitative"}, "color": {"field": "g", "type": "nominal", "scale": {"domain": ["−3x","−2x","−1x","0x","1x","2x","3x"], "range": ["#ff1010","#e8102c","#b01e5c","#8a1a9e","#6418cc","#3a1ce6","#1414ff"]}}, "shape": {"field": "g", "type": "nominal", "scale": {"domain": ["−3x","−2x","−1x","0x","1x","2x","3x"], "range": ["circle","triangle-up","square","circle","square","triangle-up","circle"]}}}}
     ]},
    {"title": "(f) Baseline Monthly", "width": 352, "height": 352,
     "layer": [
      {"data": {"name": "diag"}, "mark": {"type": "line", "color": "black", "strokeWidth": 1.5}, "encoding": {"x": {"field": "x", "type": "quantitative", "scale": {"domain": [-8.3, 0.3], "nice": false}, "axis": {"values": [-8,-6,-4,-2,0], "title": "Log Share Data"}}, "y": {"field": "y", "type": "quantitative", "scale": {"domain": [-8.3, 0.3], "nice": false}, "axis": {"values": [-8,-6,-4,-2,0], "title": "Log Share Predicted"}}}},
      {"data": {"name": "sc"}, "transform": [{"filter": "datum.p == 'f'"}], "mark": {"type": "point", "filled": false, "size": 38, "strokeWidth": 1}, "encoding": {"x": {"field": "x", "type": "quantitative"}, "y": {"field": "y", "type": "quantitative"}, "color": {"field": "g", "type": "nominal", "scale": {"domain": ["−3x","−2x","−1x","0x","1x","2x","3x"], "range": ["#ff1010","#e8102c","#b01e5c","#8a1a9e","#6418cc","#3a1ce6","#1414ff"]}}, "shape": {"field": "g", "type": "nominal", "scale": {"domain": ["−3x","−2x","−1x","0x","1x","2x","3x"], "range": ["circle","triangle-up","square","circle","square","triangle-up","circle"]}}}}
     ]},
    {"title": "(g) Alternative", "width": 352, "height": 352,
     "layer": [
      {"data": {"name": "diag"}, "mark": {"type": "line", "color": "black", "strokeWidth": 1.5}, "encoding": {"x": {"field": "x", "type": "quantitative", "scale": {"domain": [-8.3, 0.3], "nice": false}, "axis": {"values": [-8,-6,-4,-2,0], "title": "Log Share Data"}}, "y": {"field": "y", "type": "quantitative", "scale": {"domain": [-8.3, 0.3], "nice": false}, "axis": {"values": [-8,-6,-4,-2,0], "title": "Log Share Predicted"}}}},
      {"data": {"name": "sc"}, "transform": [{"filter": "datum.p == 'g'"}], "mark": {"type": "point", "filled": false, "size": 38, "strokeWidth": 1}, "encoding": {"x": {"field": "x", "type": "quantitative"}, "y": {"field": "y", "type": "quantitative"}, "color": {"field": "g", "type": "nominal", "scale": {"domain": ["−3x","−2x","−1x","0x","1x","2x","3x"], "range": ["#ff1010","#e8102c","#b01e5c","#8a1a9e","#6418cc","#3a1ce6","#1414ff"]}}, "shape": {"field": "g", "type": "nominal", "scale": {"domain": ["−3x","−2x","−1x","0x","1x","2x","3x"], "range": ["circle","triangle-up","square","circle","square","triangle-up","circle"]}}}}
     ]},
    {"title": "(h) Alternative Monthly", "width": 352, "height": 352,
     "layer": [
      {"data": {"name": "diag"}, "mark": {"type": "line", "color": "black", "strokeWidth": 1.5}, "encoding": {"x": {"field": "x", "type": "quantitative", "scale": {"domain": [-8.3, 0.3], "nice": false}, "axis": {"values": [-8,-6,-4,-2,0], "title": "Log Share Data"}}, "y": {"field": "y", "type": "quantitative", "scale": {"domain": [-8.3, 0.3], "nice": false}, "axis": {"values": [-8,-6,-4,-2,0], "title": "Log Share Predicted"}}}},
      {"data": {"name": "sc"}, "transform": [{"filter": "datum.p == 'h'"}], "mark": {"type": "point", "filled": false, "size": 38, "strokeWidth": 1}, "encoding": {"x": {"field": "x", "type": "quantitative"}, "y": {"field": "y", "type": "quantitative"}, "color": {"field": "g", "type": "nominal", "scale": {"domain": ["−3x","−2x","−1x","0x","1x","2x","3x"], "range": ["#ff1010","#e8102c","#b01e5c","#8a1a9e","#6418cc","#3a1ce6","#1414ff"]}}, "shape": {"field": "g", "type": "nominal", "scale": {"domain": ["−3x","−2x","−1x","0x","1x","2x","3x"], "range": ["circle","triangle-up","square","circle","square","triangle-up","circle"]}}}}
     ]}
  ],
  "resolve": {"scale": {"x": "independent", "y": "independent", "color": "independent", "shape": "independent"}, "legend": {"color": "independent", "shape": "independent"}}
}
